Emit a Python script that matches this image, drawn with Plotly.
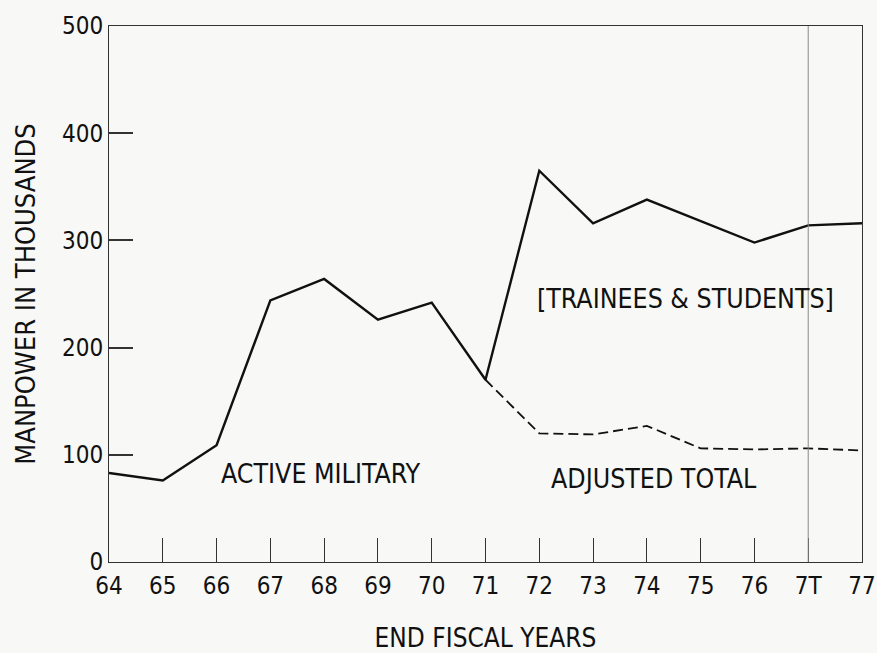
import plotly.graph_objects as go

years = ["64", "65", "66", "67", "68", "69", "70", "71", "72", "73", "74", "75", "76", "7T", "77"]
active_military = [83, 76, 109, 244, 264, 226, 242, 170, 365, 316, 338, 318, 298, 314, 316]
adjusted_years = ["71", "72", "73", "74", "75", "76", "7T", "77"]
adjusted_total = [170, 120, 119, 127, 106, 105, 106, 104]

font_family = "DejaVu Sans Condensed, Roboto"
ink = "#111111"

fig = go.Figure()
fig.add_trace(go.Scatter(x=years, y=active_military, mode="lines",
                         line=dict(color=ink, width=2.4), showlegend=False))
fig.add_trace(go.Scatter(x=adjusted_years, y=adjusted_total, mode="lines",
                         line=dict(color=ink, width=1.8, dash="10px,5px"), showlegend=False))

# thin divider at the transition quarter
fig.add_shape(type="line", x0="7T", x1="7T", y0=0, y1=500, xref="x", yref="y",
              line=dict(color="#888888", width=1))

labels = [("ACTIVE MILITARY", 3.94, 83), ("[TRAINEES & STUDENTS]", 10.72, 246),
          ("ADJUSTED TOTAL", 10.13, 78)]
for txt, xi, yv in labels:
    fig.add_annotation(x=xi, y=yv, xref="x", yref="y", text=txt, showarrow=False,
                       font=dict(size=26.5, color=ink, family=font_family))

fig.update_xaxes(type="category", categoryorder="array", categoryarray=years,
                 range=[0, 14], showgrid=False, zeroline=False, automargin=False,
                 showline=True, linecolor="#333333", linewidth=1, mirror=True,
                 ticks="inside", ticklen=24, tickcolor="#333333", tickwidth=1,
                 ticklabelstandoff=2,
                 tickfont=dict(size=24, color=ink, family=font_family),
                 title=dict(text="END FISCAL YEARS", standoff=38,
                            font=dict(size=26, color=ink, family=font_family)))
fig.update_yaxes(range=[0, 500], tickvals=[0, 100, 200, 300, 400, 500],
                 showgrid=False, zeroline=False, automargin=False,
                 showline=True, linecolor="#333333", linewidth=1, mirror=True,
                 ticks="inside", ticklen=24, tickcolor="#333333", tickwidth=1.5,
                 tickfont=dict(size=24, color=ink, family=font_family),
                 title=dict(text="MANPOWER IN THOUSANDS", standoff=18,
                            font=dict(size=27, color=ink, family=font_family)))

fig.update_layout(width=877, height=653,
                  margin=dict(l=109, r=15, t=26, b=91),
                  plot_bgcolor="#f8f8f6", paper_bgcolor="#f8f8f6")

fig.write_html("out.html", config={"displayModeBar": False},
               post_script="document.body.style.margin='0px';")
